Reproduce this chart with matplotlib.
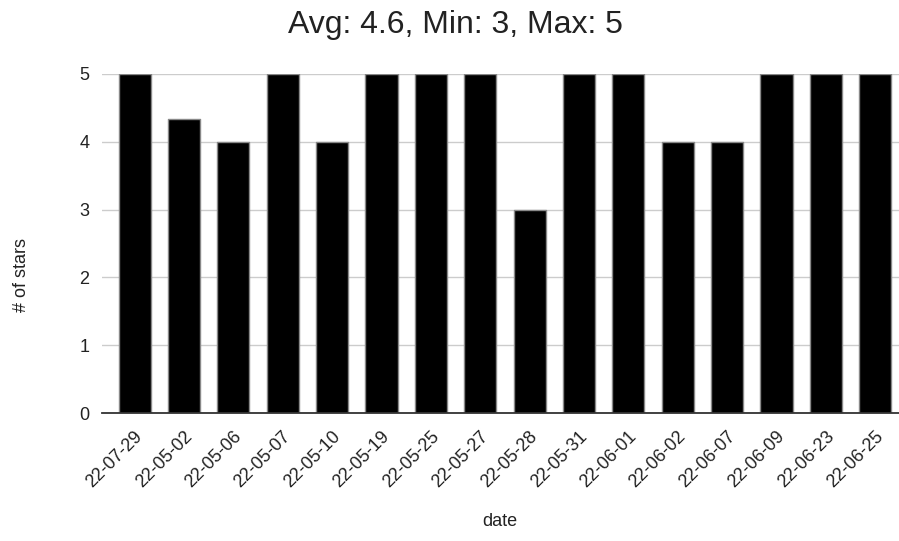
import numpy as np
from matplotlib import pyplot as plt
import matplotlib.transforms as mtransforms

plt.rcParams['font.family'] = ['Liberation Sans', 'DejaVu Sans']

dates = ['22-07-29', '22-05-02', '22-05-06', '22-05-07', '22-05-10', '22-05-19',
         '22-05-25', '22-05-27', '22-05-28', '22-05-31', '22-06-01', '22-06-02',
         '22-06-07', '22-06-09', '22-06-23', '22-06-25']
stars = [5, 4.33, 4, 5, 4, 5, 5, 5, 3, 5, 5, 4, 4, 5, 5, 5]
yticks = [0, 1, 2, 3, 4, 5]

W, H = 899, 541
fig = plt.figure(figsize=(W/100, H/100), dpi=100)
ax = fig.add_axes([102/W, 1-413/H, 797/W, 339/H])

x = np.arange(len(dates))
bars = ax.bar(x, stars, width=0.65, color='black', edgecolor='#888888', linewidth=1.0, zorder=3)
for b in bars:
    b.set_joinstyle('round')

ax.set_xlim(-0.66, len(dates) - 1 + 0.48)
ax.set_ylim(0, 5)
ax.set_yticks(yticks)
ax.set_yticklabels([str(t) for t in yticks])
ax.grid(axis='y', color='#cccccc', linewidth=1, zorder=0)
ax.tick_params(axis='y', length=0, pad=9, labelsize=13, labelcolor='#222222')
ax.tick_params(axis='x', length=0, pad=15, labelsize=13, labelcolor='#222222')
ax.set_xticks(x)
ax.set_xticklabels(dates, rotation=45, ha='right', va='center', rotation_mode='anchor')
offset = mtransforms.ScaledTranslation(5.5/100, 0, fig.dpi_scale_trans)
for lab in ax.get_xticklabels():
    lab.set_transform(lab.get_transform() + offset)

for s in ['top', 'right', 'left']:
    ax.spines[s].set_visible(False)
ax.spines['bottom'].set_color('#333333')
ax.spines['bottom'].set_linewidth(1.3)
ax.spines['bottom'].set_zorder(4)

avg = np.mean(stars)
fig.text(455/W, 1 - 25/H, 'Avg: %.1f, Min: %d, Max: %d' % (avg, min(stars), max(stars)),
         ha='center', va='center', fontsize=23, color='#222222')
fig.text(21/W, 1 - 275/H, '# of stars', rotation=90, ha='center', va='center', fontsize=13, color='#222222')
fig.text(500/W, 1 - 522/H, 'date', ha='center', va='center', fontsize=13, color='#222222')

fig.savefig('out.png')
